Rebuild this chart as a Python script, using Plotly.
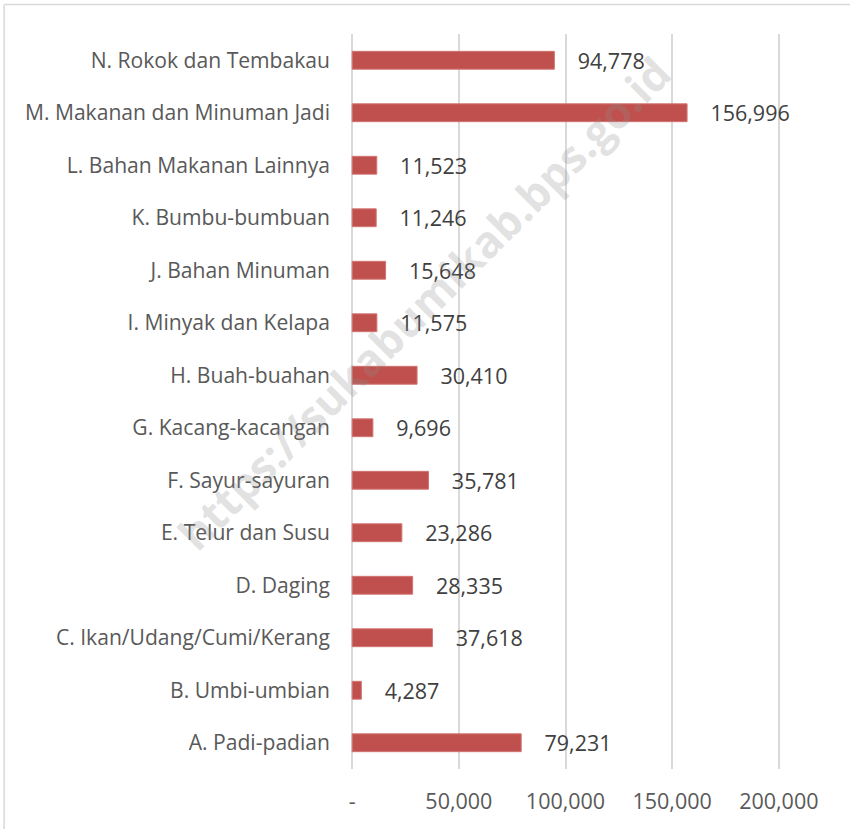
import plotly.graph_objects as go

categories = [
    "A. Padi-padian",
    "B. Umbi-umbian",
    "C. Ikan/Udang/Cumi/Kerang",
    "D. Daging",
    "E. Telur dan Susu",
    "F. Sayur-sayuran",
    "G. Kacang-kacangan",
    "H. Buah-buahan",
    "I. Minyak dan Kelapa",
    "J. Bahan Minuman",
    "K. Bumbu-bumbuan",
    "L. Bahan Makanan Lainnya",
    "M. Makanan dan Minuman Jadi",
    "N. Rokok dan Tembakau",
]
values = [79231, 4287, 37618, 28335, 23286, 35781, 9696, 30410, 11575, 15648, 11246, 11523, 156996, 94778]

x_tickvals = [0, 50000, 100000, 150000, 200000]
x_ticktext = ["-", "50,000", "100,000", "150,000", "200,000"]

FONT = "Open Sans"
FS = 21.5
NB = "\u00a0"

fig = go.Figure()
fig.add_trace(go.Bar(
    y=categories,
    x=values,
    orientation="h",
    width=0.34,
    marker=dict(color="#C0504D", line=dict(color="#D27472", width=1)),
    text=[NB * 3 + "\u2009" + f"{v:,}" for v in values],
    textposition="outside",
    constraintext="none",
    textfont=dict(family=FONT, size=FS, color="#404040"),
    cliponaxis=False,
    hoverinfo="skip",
))

W, H = 850, 829
XMIN, XMAX = -1500, 201500
# pixel positions of value 0 and 200000
p0, p200 = 352.5, 779
scale = (p200 - p0) / 200000
L = p0 + XMIN * scale
Rpx = p0 + XMAX * scale
R = W - Rpx
T, Bpx = 33.5, 769
B = H - Bpx
pw = Rpx - L
ph = Bpx - T
bx = (4.5 - L) / pw
ty = (Bpx - 4.0) / ph

fig.update_layout(
    width=W, height=H,
    margin=dict(l=L, r=R, t=T, b=B, autoexpand=False),
    paper_bgcolor="white",
    plot_bgcolor="white",
    showlegend=False,
    xaxis=dict(
        range=[XMIN, XMAX],
        tickvals=x_tickvals,
        ticktext=x_ticktext,
        showgrid=True,
        gridcolor="#D9D9D9",
        gridwidth=1.5,
        zeroline=False,
        showline=False,
        tickfont=dict(family=FONT, size=FS, color="#595959"),
        ticklabelstandoff=17,
        automargin=False,
        fixedrange=True,
    ),
    yaxis=dict(
        categoryorder="array",
        categoryarray=categories,
        showgrid=False,
        zeroline=False,
        showline=False,
        tickfont=dict(family=FONT, size=21.1, color="#595959"),
        ticklabelstandoff=18,
        automargin=False,
        range=[-0.5, 13.5],
    ),
    shapes=[
        dict(type="line", xref="paper", yref="paper", x0=bx, x1=bx, y0=-1, y1=ty,
             line=dict(color="#D9D9D9", width=1.5)),
        dict(type="line", xref="paper", yref="paper", x0=bx, x1=2, y0=ty, y1=ty,
             line=dict(color="#D9D9D9", width=1.5)),
    ],
    annotations=[
        dict(text="https://sukabumikab.bps.go.id", xref="paper", yref="paper",
             x=(424 - L) / pw, y=(Bpx - 303) / ph, showarrow=False,
             xanchor="center", yanchor="middle",
             textangle=-45,
             font=dict(family="Open Sans", size=44, color="rgba(140,140,140,0.26)", weight="bold"),
             ),
    ],
)

fig.write_html(
    "out.html",
    config={"displayModeBar": False},
    post_script="document.body.style.margin='0';document.body.style.overflow='hidden';",
)
